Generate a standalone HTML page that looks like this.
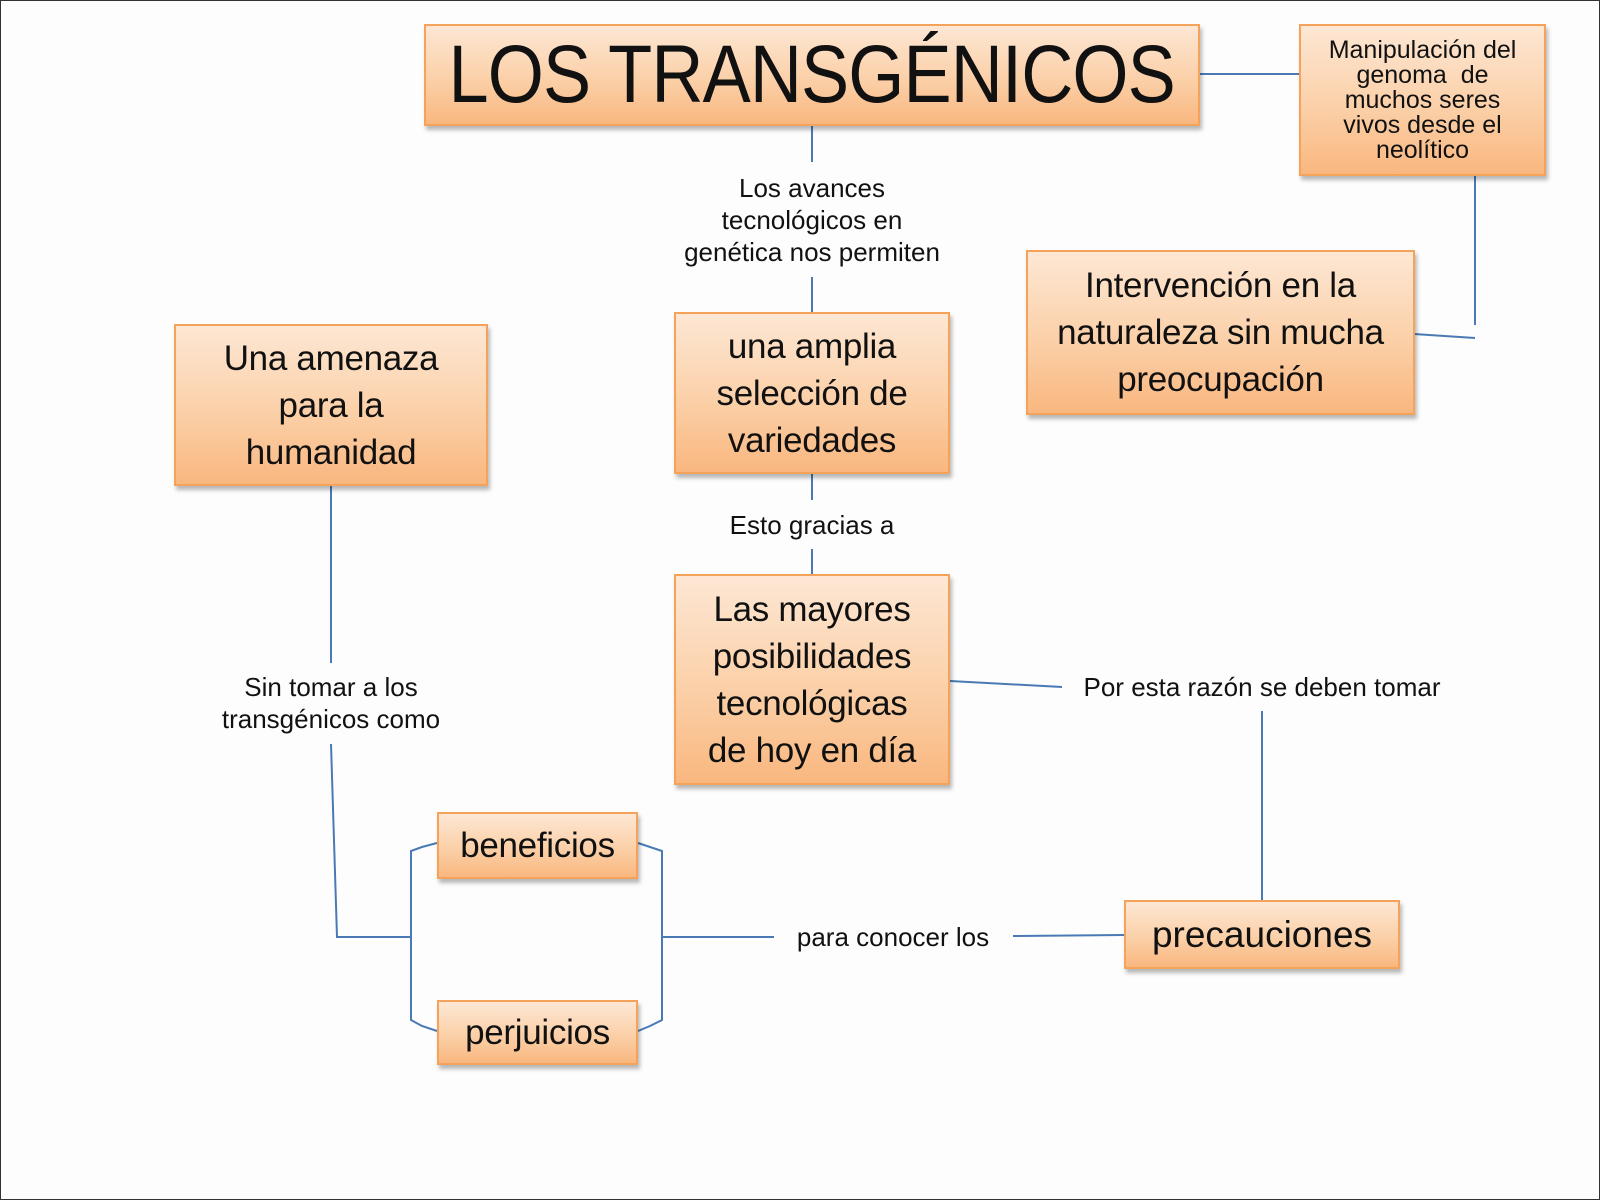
<!DOCTYPE html>
<html><head><meta charset="utf-8"><style>
html,body{margin:0;padding:0}
body{width:1600px;height:1200px;position:relative;background:#fdfdfd;overflow:hidden;font-family:"Liberation Sans",sans-serif}
.frame{position:absolute;left:0;top:0;width:1598px;height:1198px;border:1px solid #333}
.box{position:absolute;box-sizing:border-box;border:2px solid #f5a25a;background:linear-gradient(#fde7d4,#fbd0a8 55%,#f9b77f);box-shadow:2px 4px 4px rgba(0,0,0,.28);display:flex;align-items:center;justify-content:center;text-align:center;color:#111;white-space:nowrap}
.n{font-size:35px;line-height:47px;letter-spacing:-0.3px}
.lbl{position:absolute;font-size:26px;line-height:32px;text-align:center;color:#111;white-space:nowrap;transform:translateX(-50%)}
svg{position:absolute;left:0;top:0}
</style></head><body>
<div class="frame"></div>
<svg width="1600" height="1200" fill="none" stroke="#4a7ab5" stroke-width="2">
<line x1="1200" y1="74" x2="1299" y2="74"/>
<polyline points="1475,176 1475,325"/>
<line x1="1414" y1="334" x2="1475" y2="338"/>
<line x1="812" y1="126" x2="812" y2="162"/>
<line x1="812" y1="277" x2="812" y2="312"/>
<line x1="812" y1="474" x2="812" y2="500"/>
<line x1="812" y1="549" x2="812" y2="574"/>
<line x1="950" y1="681" x2="1062" y2="687"/>
<line x1="1262" y1="711" x2="1262" y2="900"/>
<line x1="331" y1="486" x2="331" y2="663"/>
<polyline points="331,744 337,937 411,937"/>
<polyline points="437,843 422,847 411,851 411,1020 422,1026 437,1031"/>
<polyline points="638,843 650,847 662,851 662,1020 650,1026 638,1031"/>
<line x1="662" y1="937" x2="774" y2="937"/>
<line x1="1013" y1="936" x2="1124" y2="935"/>
</svg>
<div class="box" style="left:424px;top:24px;width:776px;height:102px"><span style="font-size:82px;display:inline-block;transform:scaleX(0.88);white-space:nowrap;letter-spacing:-1px">LOS TRANSGÉNICOS</span></div>
<div class="box" style="left:1299px;top:24px;width:247px;height:152px;font-size:25px;line-height:25px"><span style="display:inline-block">Manipulación del<br>genoma &nbsp;de<br>muchos seres<br>vivos desde el<br>neolítico</span></div>
<div class="box n" style="left:1026px;top:250px;width:389px;height:165px">Intervención en la<br>naturaleza sin mucha<br>preocupación</div>
<div class="box n" style="left:674px;top:312px;width:276px;height:162px">una amplia<br>selección de<br>variedades</div>
<div class="box n" style="left:674px;top:574px;width:276px;height:211px">Las mayores<br>posibilidades<br>tecnológicas<br>de hoy en día</div>
<div class="box n" style="left:174px;top:324px;width:314px;height:162px">Una amenaza<br>para la<br>humanidad</div>
<div class="box n" style="left:437px;top:812px;width:201px;height:67px">beneficios</div>
<div class="box n" style="left:437px;top:1000px;width:201px;height:65px">perjuicios</div>
<div class="box" style="left:1124px;top:900px;width:276px;height:69px;font-size:37px">precauciones</div>
<div class="lbl" style="left:812px;top:172px">Los avances<br>tecnológicos en<br>genética nos permiten</div>
<div class="lbl" style="left:812px;top:509px">Esto gracias a</div>
<div class="lbl" style="left:1262px;top:671px">Por esta razón se deben tomar</div>
<div class="lbl" style="left:331px;top:671px">Sin tomar a los<br>transgénicos como</div>
<div class="lbl" style="left:893px;top:921px">para conocer los</div>
</body></html>
